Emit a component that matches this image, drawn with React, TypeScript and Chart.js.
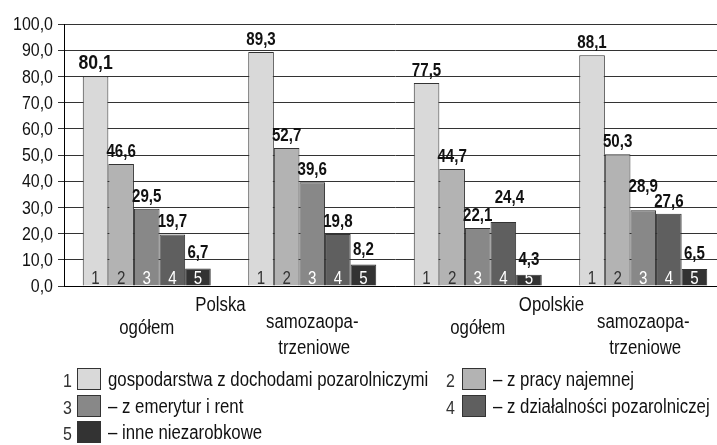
import React, { useEffect, useRef } from 'react';
import { Chart, registerables } from 'chart.js';

Chart.register(...registerables);

// ---------- data ----------
const categories: (string | string[])[] = ['ogółem', ['samozaopa-', 'trzeniowe'], 'ogółem', ['samozaopa-', 'trzeniowe']];
const regions = ['Polska', 'Opolskie'];
const seriesNumbers = ['1', '2', '3', '4', '5'];
const seriesNames = [
  'gospodarstwa z dochodami pozarolniczymi',
  '– z pracy najemnej',
  '– z emerytur i rent',
  '– z działalności pozarolniczej',
  '– inne niezarobkowe',
];
const series1 = [80.1, 89.3, 77.5, 88.1];
const series2 = [46.6, 52.7, 44.7, 50.3];
const series3 = [29.5, 39.6, 22.1, 28.9];
const series4 = [19.7, 19.8, 24.4, 27.6];
const series5 = [6.7, 8.2, 4.3, 6.5];
const yMin = 0;
const yMax = 100;
const yStep = 10;

// ---------- styles ----------
const FONT = '"Liberation Sans", Arial, sans-serif';
const SX = 0.84; // horizontal condensing (narrow typeface look)
const barColors = ['#d9d9d9', '#b3b3b3', '#888888', '#5f5f5f', '#333333'];
const innerNumberColors = ['#333333', '#333333', '#ffffff', '#ffffff', '#ffffff'];
// extra shift / lift for a few value labels, keyed "dataset-index"
const labelNudge: Record<string, [number, number]> = {
  '3-2': [6, 12],
  '2-3': [0, 11],
};

const fmt = (v: number) => v.toFixed(1).replace('.', ',');

function drawText(
  ctx: CanvasRenderingContext2D,
  text: string,
  x: number,
  y: number,
  font: string,
  color: string,
  align: CanvasTextAlign = 'center',
  baseline: CanvasTextBaseline = 'alphabetic',
) {
  ctx.save();
  ctx.font = font;
  ctx.fillStyle = color;
  ctx.textAlign = align;
  ctx.textBaseline = baseline;
  ctx.translate(x, y);
  ctx.scale(SX, 1);
  ctx.fillText(text, 0, 0);
  ctx.restore();
}

const labelsPlugin = {
  id: 'barLabels',
  afterDatasetsDraw(chart: any) {
    const ctx = chart.ctx;
    chart.data.datasets.forEach((ds: any, di: number) => {
      const meta = chart.getDatasetMeta(di);
      meta.data.forEach((bar: any, i: number) => {
        const { x, y, base } = bar.getProps(['x', 'y', 'base'], true);
        drawText(ctx, seriesNumbers[di], x, base - 2, `18px ${FONT}`, innerNumberColors[di]);
        const big = di === 0 && i === 0;
        const nudge = labelNudge[`${di}-${i}`] || [0, 0];
        const gap = di === 4 ? 10 : 7;
        drawText(ctx, fmt(ds.data[i]), x + nudge[0], y - gap - nudge[1], `bold ${big ? 21 : 18}px ${FONT}`, '#111111');
      });
    });
  },
  afterDraw(chart: any) {
    const ctx = chart.ctx;
    const xs = chart.scales.x;
    const ys = chart.scales.y;
    // y tick labels
    ys.ticks.forEach((t: any) => {
      const py = ys.getPixelForValue(t.value);
      drawText(ctx, fmt(t.value), ys.right - 11, py + 1, `19px ${FONT}`, '#111111', 'right', 'middle');
    });
    // category labels
    const catFont = `20px ${FONT}`;
    categories.forEach((c, i) => {
      const px = xs.getPixelForValue(i);
      if (Array.isArray(c)) {
        drawText(ctx, c[0], px, 328, catFont, '#111111');
        drawText(ctx, c[1], px + 2, 354, catFont, '#111111');
      } else {
        drawText(ctx, c, px, 334, catFont, '#111111');
      }
    });
    // region labels
    regions.forEach((r, k) => {
      const mid = (xs.getPixelForValue(2 * k) + xs.getPixelForValue(2 * k + 1)) / 2;
      drawText(ctx, r, mid - 9, 311, `20px ${FONT}`, '#111111');
    });
    // legend
    const rows = [[0, 1], [2, 3], [4]];
    const colX = [[72, 77, 108], [455, 462, 493]];
    const rowY = [379, 406, 432];
    rows.forEach((row, ri) => {
      row.forEach((si, ci) => {
        const [nx, bx, tx] = colX[ci];
        const cy = rowY[ri];
        drawText(ctx, seriesNumbers[si], nx, cy + 8, `19px ${FONT}`, '#333333', 'right');
        ctx.save();
        ctx.fillStyle = barColors[si];
        ctx.fillRect(bx, cy - 11, 24, 22);
        ctx.strokeStyle = '#333333';
        ctx.lineWidth = 1;
        ctx.strokeRect(bx + 0.5, cy - 10.5, 23, 21);
        ctx.restore();
        drawText(ctx, seriesNames[si], tx, cy + 7, `20px ${FONT}`, '#111111', 'left');
      });
    });
  },
};

export default function App() {
  const ref = useRef<HTMLCanvasElement | null>(null);
  useEffect(() => {
    if (!ref.current) return;
    const all = [series1, series2, series3, series4, series5];
    const chart = new Chart(ref.current, {
      type: 'bar',
      data: {
        labels: categories as any,
        datasets: all.map((d, i) => ({
          label: seriesNames[i],
          data: d,
          backgroundColor: barColors[i],
          borderColor: '#333333',
          borderWidth: 1,
          categoryPercentage: 0.7734,
          barPercentage: 1,
        })),
      },
      options: {
        responsive: false,
        devicePixelRatio: 1,
        animation: false,
        layout: { padding: { top: 24, left: 0, right: 0, bottom: 0 } },
        plugins: { legend: { display: false }, tooltip: { enabled: false } },
        scales: {
          x: {
            grid: { display: false, drawTicks: false },
            border: { display: true, color: '#000000', width: 1 },
            ticks: { display: false },
            afterFit: (s: any) => {
              s.height = 159;
            },
          },
          y: {
            min: yMin,
            max: yMax,
            grid: { color: '#333333', lineWidth: 1, tickLength: 6, drawTicks: true },
            border: { display: true, color: '#000000', width: 1 },
            ticks: { display: false, stepSize: yStep },
            afterFit: (s: any) => {
              s.width = 64;
            },
          },
        },
      },
      plugins: [labelsPlugin],
    });
    return () => chart.destroy();
  }, []);
  return (
    <div style={{ position: 'fixed', left: 0, top: 0, width: 717, height: 445, overflow: 'hidden', background: '#fff' }}>
      <canvas ref={ref} width={726} height={445} style={{ display: 'block', width: 726, height: 445 }} />
    </div>
  );
}
